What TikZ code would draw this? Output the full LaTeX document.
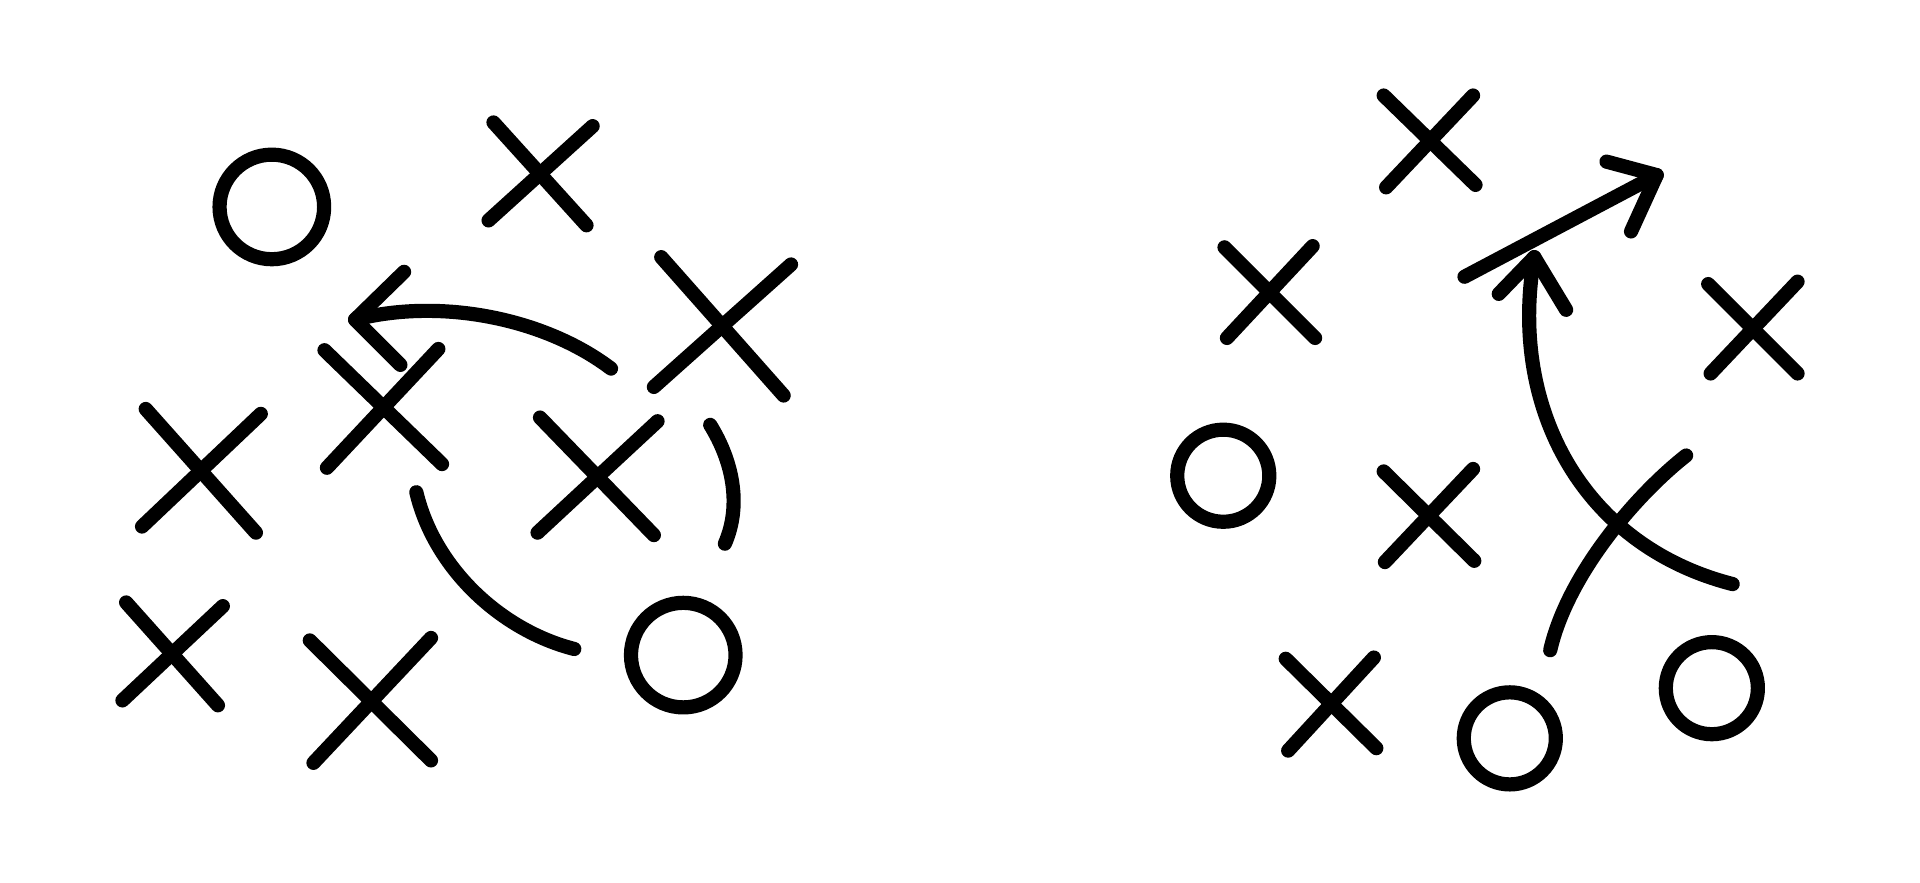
\documentclass[tikz,border=0pt]{standalone}
\usepackage{tikz}

\begin{document}
\begin{tikzpicture}[scale=0.1, line width=3.3pt, line cap=round, line join=round]
\useasboundingbox (0,0) rectangle (156.8,-72.1);
% left play
\draw [black] (22.2,-16.9) circle (4.27);
\draw [black] (40.3,-10.0) -- (47.9,-18.4);
\draw [black] (48.4,-10.3) -- (39.9,-18.0);
\draw [black] (54.0,-21.0) -- (64.0,-32.3);
\draw [black] (64.6,-21.6) -- (53.4,-31.6);
\draw [black] (26.5,-28.6) -- (36.1,-37.9);
\draw [black] (35.8,-28.5) -- (26.7,-38.2);
\draw [black] (11.9,-33.4) -- (20.9,-43.5);
\draw [black] (21.3,-33.8) -- (11.6,-43.0);
\draw [black] (44.1,-34.1) -- (53.4,-43.7);
\draw [black] (53.7,-34.4) -- (43.9,-43.5);
\draw [black] (10.3,-49.2) -- (17.8,-57.6);
\draw [black] (18.2,-49.5) -- (10.0,-57.2);
\draw [black] (25.3,-52.3) -- (35.2,-62.1);
\draw [black] (35.2,-52.1) -- (25.6,-62.3);
\draw [black] (55.8,-53.5) circle (4.27);
\draw [black] (49.9,-30.1) .. controls (44.5,-26.0) and (36.0,-24.3) .. (29.0,-26.1);
\draw [black] (33.0,-22.2) -- (29.0,-26.1) -- (32.7,-29.8);
\draw [black] (58.0,-34.7) .. controls (59.8,-37.6) and (60.6,-41.2) .. (59.2,-44.4);
\draw [black] (34.0,-40.2) .. controls (35.5,-46.5) and (41.0,-51.5) .. (46.9,-53.0);
% right play
\draw [black] (113.0,-7.8) -- (120.5,-15.1);
\draw [black] (120.3,-7.8) -- (113.2,-15.3);
\draw [black] (100.0,-20.2) -- (107.4,-27.6);
\draw [black] (107.2,-20.1) -- (100.2,-27.6);
\draw [black] (139.5,-23.2) -- (146.8,-30.5);
\draw [black] (146.8,-23.0) -- (139.7,-30.5);
\draw [black] (113.0,-38.5) -- (120.4,-45.8);
\draw [black] (120.3,-38.3) -- (113.1,-45.9);
\draw [black] (105.0,-53.8) -- (112.4,-61.1);
\draw [black] (112.2,-53.7) -- (105.2,-61.3);
\draw [black] (99.9,-38.85) circle (3.76);
\draw [black] (123.3,-60.3) circle (3.76);
\draw [black] (139.8,-56.2) circle (3.76);
\draw [black] (119.6,-22.6) -- (135.3,-14.3);
\draw [black] (131.2,-13.2) -- (135.3,-14.3) -- (133.2,-18.9);
\draw [black] (141.5,-47.7) .. controls (129.0,-44.5) and (123.2,-33.0) .. (125.3,-21.0);
\draw [black] (122.4,-24.0) -- (125.3,-21.0) -- (127.9,-25.3);
\draw [black] (137.7,-37.2) .. controls (133.5,-40.5) and (128.0,-47.0) .. (126.6,-53.1);
\end{tikzpicture}
\end{document}
